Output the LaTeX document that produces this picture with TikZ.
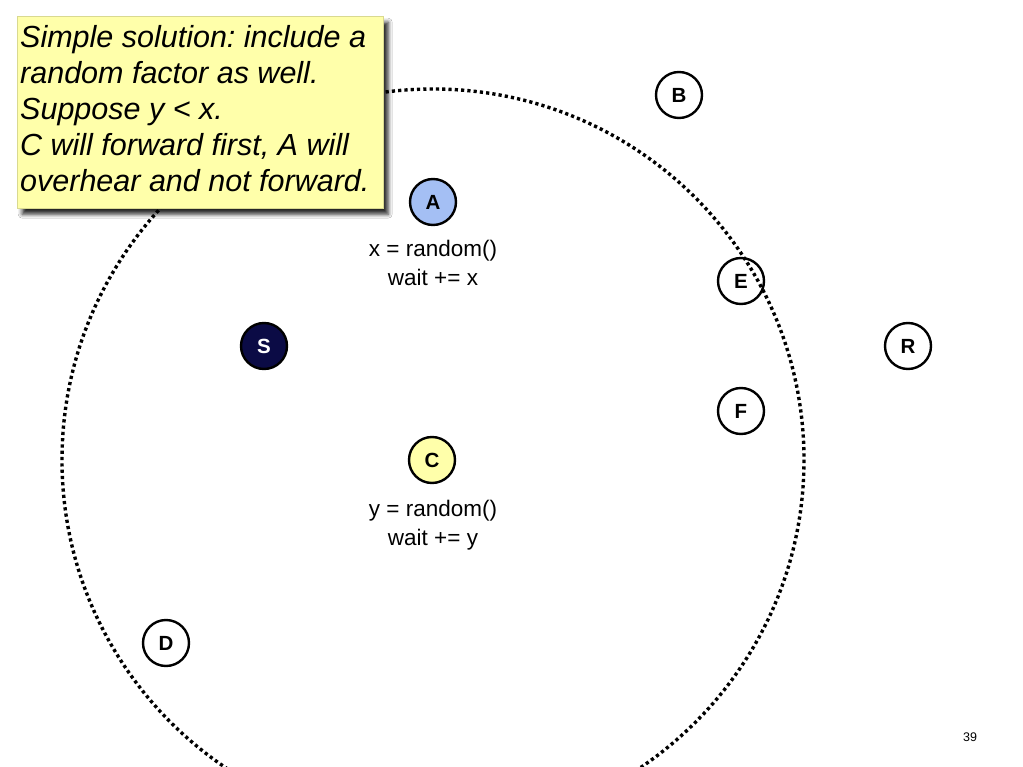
\documentclass[tikz,border=0pt]{standalone}
\usepackage{fontspec}
\setmainfont{Liberation Sans}
\usetikzlibrary{shadows,shadows.blur}
\frenchspacing
\definecolor{nodeblue}{HTML}{A4BFF4}
\definecolor{nodenavy}{HTML}{0B0B45}
\definecolor{nodeyellow}{HTML}{FFFFAA}
\definecolor{boxyellow}{HTML}{FFFFAA}
\tikzset{
  netnode/.style={circle, draw=black, line width=2.4pt, minimum size=46pt, inner sep=0pt, fill=white, font=\fontsize{20.5}{20.5}\selectfont\bfseries},
  codetext/.style={align=center, font=\fontsize{22.5}{29}\selectfont, inner sep=0pt},
  rangecircle/.style={draw=black, line width=3.4pt, dash pattern=on 3.2pt off 3.1pt},
}
\begin{document}
\begin{tikzpicture}[x=1pt,y=-1pt]
\useasboundingbox (0,0) rectangle (1023,767);
\fill[white] (0,0) rectangle (1023,767);
% nodes
\node[netnode, fill=nodeblue] (A) at (433,202) {A};
\node[netnode] (B) at (679,95) {B};
\node[netnode, fill=none] (E) at (741,281) {E};
\node[netnode] (R) at (908,346) {R};
\node[netnode] (F) at (741,411) {F};
\node[netnode, fill=nodenavy, text=white] (S) at (264,346) {S};
\node[netnode, fill=nodeyellow] (C) at (432,460) {C};
\node[netnode] (D) at (166,643) {D};
% labels
\node[codetext, anchor=north] (ax) at (433,240) {x = random()\\wait += x};
\node[codetext, anchor=north] (cy) at (433,500) {y = random()\\wait += y};
% range circle
\begin{scope}
\clip (0,0) rectangle (1023,767);
\draw[rangecircle] (433,460) circle[radius=371];
\end{scope}
% note box
\node[draw=boxyellow!85!black, line width=0.4pt, fill=boxyellow, anchor=north west, minimum width=366pt, minimum height=192pt, inner sep=0pt,
  blur shadow={shadow xshift=5pt, shadow yshift=-6pt, shadow blur radius=4pt, shadow opacity=85}] (note) at (17,16) {};
\node[anchor=north west, align=left, inner sep=0pt, font=\fontsize{30.5}{36}\selectfont\itshape] (notetext) at (20,25)
  {Simple solution: include a\\random factor as well.\\Suppose y < x.\\C will forward first, A will\\overhear and not forward.};
% page number
\node[font=\fontsize{12.5}{12.5}\selectfont] (pg) at (970,737) {39};
\end{tikzpicture}
\end{document}
